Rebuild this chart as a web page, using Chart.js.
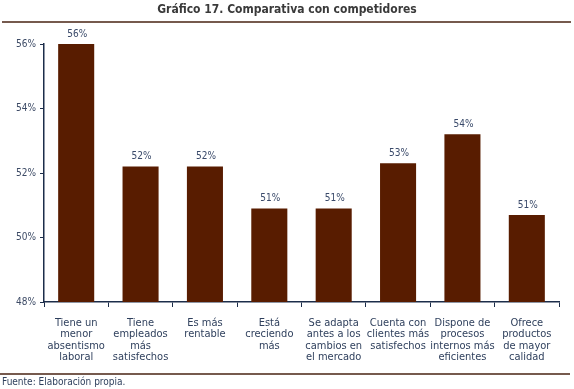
<!DOCTYPE html>
<html>
<head>
<meta charset="utf-8">
<script src="https://cdn.jsdelivr.net/npm/chart.js@4/dist/chart.umd.min.js"></script>
<style>
  html, body { margin: 0; padding: 0; background: #fff; }
  #wrap { position: relative; width: 574px; height: 389px; }
</style>
</head>
<body>
<div id="wrap"><canvas id="myBarChart" width="574" height="389"></canvas></div>
<script>
// data
const categories = [
  ["Tiene un", "menor", "absentismo", "laboral"],
  ["Tiene", "empleados", "más", "satisfechos"],
  ["Es más", "rentable"],
  ["Está", "creciendo", "más"],
  ["Se adapta", "antes a los", "cambios en", "el mercado"],
  ["Cuenta con", "clientes más", "satisfechos"],
  ["Dispone de", "procesos", "internos más", "eficientes"],
  ["Ofrece", "productos", "de mayor", "calidad"]
];
const values = [56.0, 52.2, 52.2, 50.9, 50.9, 52.3, 53.2, 50.7];
const valueLabels = ["56%", "52%", "52%", "51%", "51%", "53%", "54%", "51%"];
const yTicks = [48, 50, 52, 54, 56];

const narrow = '"Liberation Sans Narrow", "DejaVu Sans Condensed", sans-serif';
const axisColor = "#1c2d4a";
const textColor = "#2e3f5c";

// title, rules, footer and value labels
const decor = {
  id: "decor",
  afterDraw(chart) {
    const ctx = chart.ctx;
    ctx.save();
    ctx.fillStyle = "#3a3a3a";
    ctx.font = "bold 12px " + narrow;
    ctx.textAlign = "center";
    ctx.textBaseline = "middle";
    ctx.fillText("Gráfico 17. Comparativa con competidores", 287, 10);

    ctx.strokeStyle = "#4a2414";
    ctx.lineWidth = 1.5;
    ctx.beginPath();
    ctx.moveTo(2, 22); ctx.lineTo(571, 22);
    ctx.moveTo(0, 374); ctx.lineTo(570, 374);
    ctx.stroke();

    ctx.fillStyle = textColor;
    ctx.font = "10px " + narrow;
    ctx.textAlign = "left";
    ctx.fillText("Fuente: Elaboración propia.", 2, 382);

    const meta = chart.getDatasetMeta(0);
    ctx.font = "10px " + narrow;
    ctx.textAlign = "center";
    ctx.fillStyle = "#3a4a6a";
    meta.data.forEach((bar, i) => {
      ctx.fillText(valueLabels[i], bar.x + 1, bar.y - 10);
    });
    ctx.restore();
  }
};

const ctx = document.getElementById("myBarChart").getContext("2d");
const myBarChart = new Chart(ctx, {
  type: "bar",
  data: {
    labels: categories,
    datasets: [{
      data: values,
      backgroundColor: "#581c00",
      barPercentage: 0.56,
      categoryPercentage: 1.0
    }]
  },
  options: {
    responsive: false,
    animation: false,
    layout: { padding: { top: 44, right: 15, left: 0, bottom: 0 } },
    plugins: { legend: { display: false }, tooltip: { enabled: false } },
    scales: {
      x: {
        offset: true,
        grid: {
          offset: true,
          drawOnChartArea: false,
          color: axisColor,
          tickLength: 5,
          tickColor: axisColor
        },
        border: { color: axisColor, width: 1.5 },
        ticks: {
          color: textColor,
          font: { family: narrow, size: 11, lineHeight: 1.05 },
          maxRotation: 0,
          autoSkip: false,
          padding: 10
        },
        afterFit(scale) { scale.height = 87; }
      },
      y: {
        min: 48,
        max: 56,
        afterBuildTicks(scale) {
          scale.ticks = yTicks.map(v => ({ value: v }));
        },
        grid: {
          drawOnChartArea: false,
          color: axisColor,
          tickLength: 4,
          tickColor: axisColor
        },
        border: { color: axisColor, width: 1.5 },
        ticks: {
          color: "#3d4b66",
          font: { family: narrow, size: 10 },
          padding: 4,
          callback: v => v + "%"
        },
        afterFit(scale) { scale.width = 44; }
      }
    }
  },
  plugins: [decor]
});
</script>
</body>
</html>
